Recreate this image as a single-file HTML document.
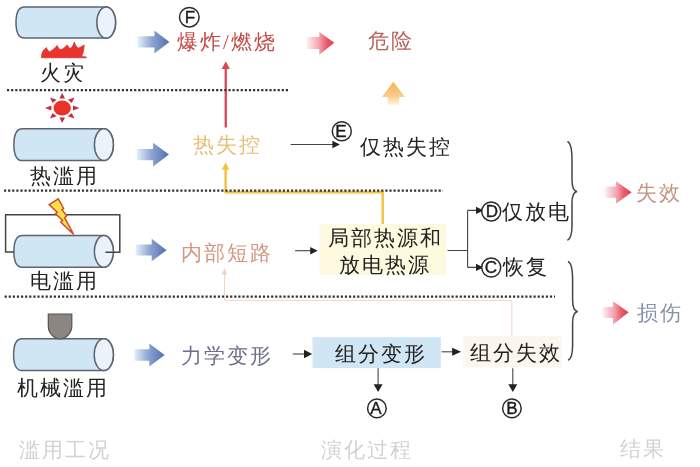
<!DOCTYPE html>
<html><head><meta charset="utf-8">
<style>
html,body{margin:0;padding:0;background:#fff;}
body{width:700px;height:467px;position:relative;overflow:hidden;font-family:"Liberation Serif",serif;}
svg{position:absolute;left:0;top:0;}
.t{position:absolute;will-change:transform;white-space:nowrap;font-size:21px;line-height:21px;letter-spacing:2px;color:#222;}
.c{position:absolute;will-change:transform;font-family:"Liberation Sans",sans-serif;font-size:15px;line-height:15px;text-align:center;color:#1a1a1a;-webkit-text-stroke:0.35px #1a1a1a;}
</style></head><body>
<svg width="700" height="467" viewBox="0 0 700 467">
<defs>
<linearGradient id="gb" x1="0" x2="1" y1="0" y2="0"><stop offset="0" stop-color="#e6f0fa"/><stop offset="0.45" stop-color="#8ea5d2"/><stop offset="1" stop-color="#5270ae"/></linearGradient>
<linearGradient id="gp" x1="0" x2="1" y1="0" y2="0"><stop offset="0" stop-color="#fff0f2"/><stop offset="0.45" stop-color="#f3a2ae"/><stop offset="0.7" stop-color="#e8606e"/><stop offset="1" stop-color="#e03a4c"/></linearGradient>
<linearGradient id="go" x1="0" x2="0" y1="0" y2="1"><stop offset="0" stop-color="#f4b455"/><stop offset="0.6" stop-color="#f8cc88"/><stop offset="1" stop-color="#fff4e6"/></linearGradient>
</defs>
<!-- cylinders -->
<g stroke="#5b6470" stroke-width="1.5">
<path d="M24.5,6.9 H106.2 A9.4,15.60 0 0 1 106.2,38.1 H24.5 C18.2,38.1 16.0,31.1 16.0,22.50 C16.0,13.9 18.2,6.9 24.5,6.9 Z" fill="#d0e6f4"/>
<ellipse cx="106.2" cy="22.50" rx="9.4" ry="15.60" fill="#ecf2f9"/>
<path d="M22.4,128.7 H103.9 A9.5,15.95 0 0 1 103.9,160.6 H22.4 C16.1,160.6 13.9,153.6 13.9,144.65 C13.9,135.7 16.1,128.7 22.4,128.7 Z" fill="#d0e6f4"/>
<ellipse cx="103.9" cy="144.65" rx="9.5" ry="15.95" fill="#ecf2f9"/>
<path d="M22.4,235.6 H103.9 A9.5,15.85 0 0 1 103.9,267.3 H22.4 C16.1,267.3 13.9,260.3 13.9,251.45 C13.9,242.6 16.1,235.6 22.4,235.6 Z" fill="#d0e6f4"/>
<ellipse cx="103.9" cy="251.45" rx="9.5" ry="15.85" fill="#ecf2f9"/>
<path d="M22.1,338.7 H103.8 A9.6,15.95 0 0 1 103.8,370.6 H22.1 C15.8,370.6 13.6,363.6 13.6,354.65 C13.6,345.7 15.8,338.7 22.1,338.7 Z" fill="#d0e6f4"/>
<ellipse cx="103.8" cy="354.65" rx="9.6" ry="15.95" fill="#ecf2f9"/>
</g>
<!-- flame -->
<path d="M41.5,57.6 C41.3,53.5 43,50 46.5,47.6 C46.9,49.3 47.8,50.8 49.6,51.8 C52.3,50.3 55,48 57.1,45.4 C57.9,47.4 59.2,49 61,49.8 C63.2,48.6 65.3,46.8 67.1,44.9 C68,46.5 69.2,47.8 70.8,48.4 C72.4,46.8 73.5,44.6 74.3,42 C75.2,44.6 76.4,46.8 78.3,48.2 C80.3,47.3 82.2,46.2 84.2,44.9 C84,49.5 83,53.5 81.6,56.6 L86.2,56.9 L86.2,57.8 L41.5,57.8 Z" fill="#e8342c" stroke="#cf2a32" stroke-width="0.7" stroke-linejoin="round"/>
<!-- sun -->
<g fill="#c42c48" transform="translate(62.2,108) scale(1,0.87)">
<polygon points="-2.8,-10.8 2.8,-10.8 0,-17.2" transform="rotate(0)"/><polygon points="-2.8,-10.8 2.8,-10.8 0,-17.2" transform="rotate(45)"/><polygon points="-2.8,-10.8 2.8,-10.8 0,-17.2" transform="rotate(90)"/><polygon points="-2.8,-10.8 2.8,-10.8 0,-17.2" transform="rotate(135)"/><polygon points="-2.8,-10.8 2.8,-10.8 0,-17.2" transform="rotate(180)"/><polygon points="-2.8,-10.8 2.8,-10.8 0,-17.2" transform="rotate(225)"/><polygon points="-2.8,-10.8 2.8,-10.8 0,-17.2" transform="rotate(270)"/><polygon points="-2.8,-10.8 2.8,-10.8 0,-17.2" transform="rotate(315)"/>
<circle r="8.7" fill="#e8322a"/>
</g>
<!-- circuit -->
<path d="M14,252 H5.6 V214.7 H119.8 V252.2 H105.4" fill="none" stroke="#444" stroke-width="1.5"/>
<!-- lightning -->
<polygon points="49.2,204.6 58.3,198.9 63.6,208.5 62,209.9 66.8,215.7 64.6,217.6 73.7,234.5 60.7,222 62.6,220.3 55.4,213.8 57.2,212.2" fill="#ffe24a" stroke="#d4482c" stroke-width="1.5" stroke-linejoin="miter"/>
<!-- presser -->
<path d="M48.3,314 H71.8 V326 C71.8,333 66,339 60,339 C54,339 48.3,333 48.3,326 Z" fill="#8c8582" stroke="#555" stroke-width="1.2"/>
<!-- blue arrows -->
<path d="M137.5,36.2 H154.4 V30.6 L169.4,41.9 L154.4,53.5 V47.5 H137.5 Z" fill="url(#gb)"/>
<path d="M136.7,149 H153.1 V142.8 L169,154.4 L153.1,166.4 V160.2 H136.7 Z" fill="url(#gb)"/>
<path d="M135.8,244.5 H151.7 V238.7 L166.6,250.2 L151.7,261.3 V255.5 H135.8 Z" fill="url(#gb)"/>
<path d="M134.3,349.3 H149.3 V343.5 L164.7,355 L149.3,366.6 V360.8 H134.3 Z" fill="url(#gb)"/>
<!-- pink arrows -->
<path d="M306.7,37 H319.3 V31.9 L334.3,42.7 L319.3,54.7 V48.9 H306.7 Z" fill="url(#gp)"/>
<path d="M604.8,186.5 H616 V181.2 L631.7,192.2 L616,203.7 V197.7 H604.8 Z" fill="url(#gp)"/>
<path d="M602.5,307 H613 V301.2 L628.7,312.2 L613,324.5 V318 H602.5 Z" fill="url(#gp)"/>
<!-- orange up arrow -->
<path d="M393.4,81.7 L405,97 H399.2 V105 H387.7 V97 H381.9 Z" fill="url(#go)"/>
<!-- red vertical arrow -->
<rect x="224.6" y="68" width="2.3" height="59.5" fill="#dc4454"/>
<polygon points="225.75,61.3 229.8,69 221.7,69" fill="#dc4454"/>
<!-- yellow path -->
<path d="M382.7,224 V192.3 H225.6 V168" fill="none" stroke="#f3c13a" stroke-width="2.4"/>
<polygon points="225.6,162.2 229.3,169.8 221.9,169.8" fill="#f3c13a"/>
<!-- salmon thin path -->
<path d="M224.5,273 V300.4 H511.8 V336" fill="none" stroke="#f5d6c6" stroke-width="1"/>
<polygon points="224.5,268.6 227.2,274.5 221.8,274.5" fill="#f2cdb9"/>
<!-- dotted lines -->
<g stroke="#333" stroke-width="2.2" stroke-dasharray="2.2 1.9">
<line x1="7" y1="90.2" x2="289" y2="90.2"/>
<line x1="4" y1="190.7" x2="443" y2="190.7"/>
<line x1="4.6" y1="296.6" x2="555" y2="296.6"/>
</g>
<!-- boxes -->
<rect x="319.5" y="224" width="126.5" height="51" fill="#fefadf"/>
<rect x="312.5" y="337.1" width="128.3" height="31" fill="#d0e6f4"/>
<rect x="463" y="336" width="98.5" height="31.5" fill="#fcf7ee"/>
<!-- black arrows -->
<g stroke="#444" stroke-width="1.1" fill="none">
<line x1="290.7" y1="144.5" x2="334" y2="144.5"/>
<line x1="295.1" y1="250.7" x2="312" y2="250.7"/>
<path d="M447.5,250.5 H467.6 M467.6,210.4 V267.4 M467.6,210.4 H478 M467.6,267.4 H478"/>
<line x1="292.8" y1="354" x2="306" y2="354"/>
<line x1="441.6" y1="351.8" x2="454" y2="351.8"/>
<line x1="378.1" y1="368.2" x2="378.1" y2="385"/>
<line x1="512.8" y1="368.2" x2="512.8" y2="385"/>
</g>
<g fill="#222">
<polygon points="339.9,144.5 332.4,140.8 332.4,148.2"/>
<polygon points="317.7,250.7 310.2,247 310.2,254.4"/>
<polygon points="483.5,210.4 476,206.7 476,214.1"/>
<polygon points="483.5,267.4 476,263.7 476,271.1"/>
<polygon points="312.2,354 304,349.7 304,358.2"/>
<polygon points="461.1,351.8 452.1,347.7 452.1,355.7"/>
<polygon points="378.1,392 373.6,384.3 382.6,384.3"/>
<polygon points="512.8,392 508.3,384.3 517.3,384.3"/>
</g>
<!-- braces -->
<g fill="none" stroke="#444" stroke-width="1.5">
<path d="M567.4,141.5 C571,143 572,150 572,160 L572,180 C572,188 574,191 577,191.5 C574,192 572,195 572,203 L572,225 C572,233 571,239 567.4,240.3"/>
<path d="M568,261.5 C571.6,263 572.6,270 572.6,280 L572.6,300 C572.6,308 574.6,311 577.7,311.5 C574.6,312 572.6,315 572.6,323 L572.6,345 C572.6,353 571.6,359 568,360.3"/>
</g>
<!-- circled letters -->
<g fill="#fff" stroke="#2a2a2a" stroke-width="1.5">
<circle cx="189.3" cy="17.2" r="9.8"/>
<circle cx="341.8" cy="131.2" r="9.5"/>
<circle cx="491.2" cy="211.4" r="9.5" stroke-width="1.5"/>
<circle cx="491.2" cy="267.5" r="9.5" stroke-width="1.5"/>
<circle cx="376.9" cy="408.4" r="9.3"/>
<circle cx="511.9" cy="408.4" r="9.3"/>
</g>
</svg>
<div class="c" style="left:179.8px;top:9.2px;width:20px;font-size:17px;line-height:17px">F</div>
<div class="c" style="left:331.1px;top:122.5px;width:20px;font-size:17px;line-height:17px">E</div>
<div class="c" style="left:481.6px;top:202.8px;width:20px;font-size:17px;line-height:17px">D</div>
<div class="c" style="left:480.9px;top:258.9px;width:20px;font-size:17px;line-height:17px">C</div>
<div class="c" style="left:366.2px;top:400.4px;width:20px;font-size:17px;line-height:17px">A</div>
<div class="c" style="left:502.4px;top:399.9px;width:20px;font-size:17px;line-height:17px">B</div>

<div class="t" style="left:39.5px;top:63.0px">火灾</div>
<div class="t" style="left:30.0px;top:166.0px">热滥用</div>
<div class="t" style="left:30.0px;top:270.5px">电滥用</div>
<div class="t" style="left:17.0px;top:378.0px">机械滥用</div>
<div class="t" style="left:177.3px;top:31.5px;color:#c44a48">爆炸/燃烧</div>
<div class="t" style="left:367.5px;top:30.5px;color:#b8605c">危险</div>
<div class="t" style="left:192.8px;top:134.8px;color:#e6bf74">热失控</div>
<div class="t" style="left:359.8px;top:136.5px">仅热失控</div>
<div class="t" style="left:180.8px;top:242.5px;color:#d29884">内部短路</div>
<div class="t" style="left:327.5px;top:227.5px">局部热源和</div>
<div class="t" style="left:338.5px;top:255.0px">放电热源</div>
<div class="t" style="left:501.5px;top:201.7px">仅放电</div>
<div class="t" style="left:502.5px;top:256.5px">恢复</div>
<div class="t" style="left:180.8px;top:345.5px;color:#6b6d8a">力学变形</div>
<div class="t" style="left:335.0px;top:344.0px">组分变形</div>
<div class="t" style="left:470.0px;top:343.0px">组分失效</div>
<div class="t" style="left:636.0px;top:182.8px;color:#c29484">失效</div>
<div class="t" style="left:636.5px;top:302.5px;color:#8592aa">损伤</div>
<div class="t" style="left:19.0px;top:439.9px;color:#d2d2d2">滥用工况</div>
<div class="t" style="left:320.5px;top:440.0px;color:#d2d2d2">演化过程</div>
<div class="t" style="left:620.0px;top:439.1px;color:#d2d2d2">结果</div>
</body></html>
